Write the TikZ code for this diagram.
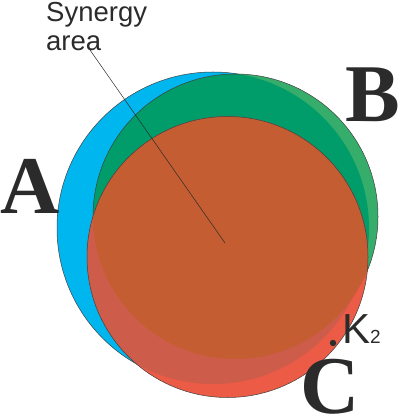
\documentclass[tikz,border=0pt]{standalone}
\usepackage{fontspec}
\setmainfont{Liberation Serif}
\newfontfamily\sansf{Liberation Sans}
\definecolor{cblue}{HTML}{00B6EE}
\definecolor{cdkgreen}{HTML}{009C69}
\definecolor{cltgreen}{HTML}{36AD6B}
\definecolor{cbrown}{HTML}{C45D32}
\definecolor{cpink}{HTML}{CE5C4A}
\definecolor{cred}{HTML}{EB5B45}
\definecolor{cink}{HTML}{2B2B2B}
\begin{document}
\begin{tikzpicture}[x=1pt,y=-1pt,
  outline/.style={draw=cink!90,line width=0.5pt},
  biglabel/.style={font=\fontsize{82}{82}\selectfont\bfseries,text=cink,inner sep=0pt,anchor=base},
  leader/.style={draw=cink,line width=0.5pt}]
\useasboundingbox (0,0) rectangle (400,419);
\coordinate (cA) at (213,228);
\coordinate (cB) at (235.5,216.5);
\coordinate (cC) at (227.5,257);
% circle A
\fill[cblue] (cA) circle[radius=156pt];
\draw[outline] (cA) circle[radius=156pt];
% circle B
\fill[cltgreen] (cB) circle[radius=142.5pt];
\begin{scope}
  \clip (cA) circle[radius=156pt];
  \fill[cdkgreen] (cB) circle[radius=142.5pt];
\end{scope}
\draw[outline] (cB) circle[radius=142.5pt];
% circle C
\fill[cred] (cC) circle[radius=140.5pt];
\begin{scope}
  \clip (cA) circle[radius=156pt];
  \fill[cpink] (cC) circle[radius=140.5pt];
\end{scope}
\begin{scope}
  \clip (cB) circle[radius=142.5pt];
  \fill[cbrown] (cC) circle[radius=140.5pt];
\end{scope}
\draw[outline] (cC) circle[radius=140.5pt];
% labels
\node[biglabel] (labA) at (30,213) {A};
\node[biglabel] (labB) at (373,122) {B};
\node[biglabel] (labC) at (330,413) {C};
\node[anchor=north west,align=left,inner sep=0pt,text=cink,
  font=\sansf\fontsize{27.5}{29}\selectfont] (syn) at (46,2) {Synergy\\area};
\coordinate (lead) at (90,50);
\coordinate (mid) at (225,243);
\draw[leader] (lead) -- (mid);
% K2 point
\fill[cink] (333,343) circle[radius=3.2pt];
\node[anchor=base west,inner sep=0pt,text=cink] (k2) at (342,343)
  {\sansf\fontsize{42}{42}\selectfont K\fontsize{19}{19}\selectfont 2};
\end{tikzpicture}
\end{document}
